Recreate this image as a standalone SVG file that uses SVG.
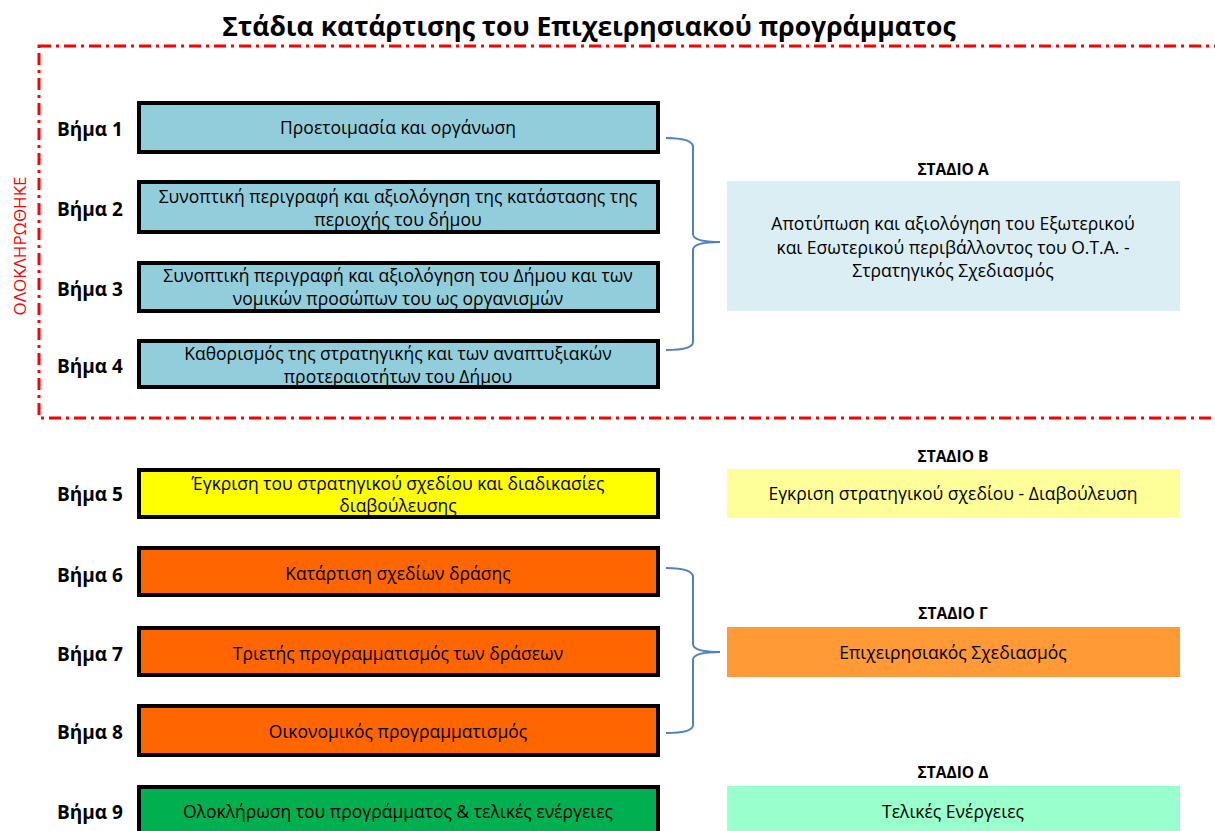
<svg xmlns="http://www.w3.org/2000/svg" width="1215" height="831" viewBox="0 0 1215 831">
<style>
text{font-family:"Open Sans","Noto Sans",sans-serif;fill:#000}
.title{font-size:26.5px;font-weight:bold;text-anchor:middle}
.lbl{font-size:19px;font-weight:bold;text-anchor:middle}
.st{font-size:15.5px;font-weight:bold;text-anchor:middle}
.t{font-size:17.5px;text-anchor:middle}
.step{stroke:#000;stroke-width:4}
.brace{fill:none;stroke:#4F81BD;stroke-width:2}
</style>
<rect width="1215" height="831" fill="#fff"/>
<text class="title" x="589" y="36">Στάδια κατάρτισης του Επιχειρησιακού προγράμματος</text>
<g id="completed">
<rect x="39" y="46" width="1200" height="372" fill="none" stroke="#FF0000" stroke-width="3" stroke-dasharray="12 5 3 5"/>
<text x="19" y="246" transform="rotate(-90 19 246)" text-anchor="middle" dominant-baseline="central" style="font-size:17px;fill:#FF0000">ΟΛΟΚΛΗΡΩΘΗΚΕ</text>
</g>
<g id="step1"><text class="lbl" x="90" y="136">Βήμα 1</text><rect class="step" x="139" y="103" width="519" height="49" fill="#92CDDC"/><text class="t" x="398" y="134">Προετοιμασία και οργάνωση</text></g>
<g id="step2"><text class="lbl" x="90" y="216">Βήμα 2</text><rect class="step" x="139" y="182" width="519" height="50" fill="#92CDDC"/><text class="t" x="398" y="203">Συνοπτική περιγραφή και αξιολόγηση της κατάστασης της</text><text class="t" x="398" y="226">περιοχής του δήμου</text></g>
<g id="step3"><text class="lbl" x="90" y="296">Βήμα 3</text><rect class="step" x="139" y="263" width="519" height="48" fill="#92CDDC"/><text class="t" x="398" y="282">Συνοπτική περιγραφή και αξιολόγηση του Δήμου και των</text><text class="t" x="398" y="305">νομικών προσώπων του ως οργανισμών</text></g>
<g id="step4"><text class="lbl" x="90" y="373">Βήμα 4</text><rect class="step" x="139" y="341" width="519" height="46" fill="#92CDDC"/><text class="t" x="398" y="360">Καθορισμός της στρατηγικής και των αναπτυξιακών</text><text class="t" x="398" y="383">προτεραιοτήτων του Δήμου</text></g>
<g id="step5"><text class="lbl" x="90" y="501">Βήμα 5</text><rect class="step" x="139" y="470" width="519" height="47" fill="#FFFF00"/><text class="t" x="398" y="490">Έγκριση του στρατηγικού σχεδίου και διαδικασίες</text><text class="t" x="398" y="512">διαβούλευσης</text></g>
<g id="step6"><text class="lbl" x="90" y="582">Βήμα 6</text><rect class="step" x="139" y="548" width="519" height="47" fill="#FF6600"/><text class="t" x="398" y="580">Κατάρτιση σχεδίων δράσης</text></g>
<g id="step7"><text class="lbl" x="90" y="661">Βήμα 7</text><rect class="step" x="139" y="628" width="519" height="47" fill="#FF6600"/><text class="t" x="398" y="660">Τριετής προγραμματισμός των δράσεων</text></g>
<g id="step8"><text class="lbl" x="90" y="739">Βήμα 8</text><rect class="step" x="139" y="706" width="519" height="49" fill="#FF6600"/><text class="t" x="398" y="738">Οικονομικός προγραμματισμός</text></g>
<g id="step9"><text class="lbl" x="90" y="819">Βήμα 9</text><rect class="step" x="139" y="787" width="519" height="50" fill="#00B050"/><text class="t" x="398" y="818">Ολοκλήρωση του προγράμματος &amp; τελικές ενέργειες</text></g>
<g id="stageA"><text class="st" x="953" y="175">ΣΤΑΔΙΟ Α</text><rect x="727" y="181" width="453" height="130" fill="#DAEEF3"/><text class="t" x="953" y="230">Αποτύπωση και αξιολόγηση του Εξωτερικού</text><text class="t" x="953" y="254">και Εσωτερικού περιβάλλοντος του Ο.Τ.Α. -</text><text class="t" x="953" y="277">Στρατηγικός Σχεδιασμός</text></g>
<g id="stageB"><text class="st" x="953" y="462">ΣΤΑΔΙΟ Β</text><rect x="727" y="469" width="453" height="49" fill="#FFFF99"/><text class="t" x="953" y="500">Εγκριση στρατηγικού σχεδίου - Διαβούλευση</text></g>
<g id="stageC"><text class="st" x="953" y="619">ΣΤΑΔΙΟ Γ</text><rect x="727" y="627" width="453" height="50" fill="#FF9A37"/><text class="t" x="953" y="659">Επιχειρησιακός Σχεδιασμός</text></g>
<g id="stageD"><text class="st" x="953" y="778">ΣΤΑΔΙΟ Δ</text><rect x="727" y="786" width="453" height="50" fill="#99FFCC"/><text class="t" x="953" y="818">Τελικές Ενέργειες</text></g>
<g id="connectors">
<path class="brace" d="M666 138 Q693 138 693 147 L693 234 Q693 242 720 242 Q693 242 693 250 L693 342 Q693 350 666 350"/>
<path class="brace" d="M666 568 Q693 568 693 577 L693 644 Q693 652 720 652 Q693 652 693 660 L693 725 Q693 733 666 733"/>
</g>
</svg>
